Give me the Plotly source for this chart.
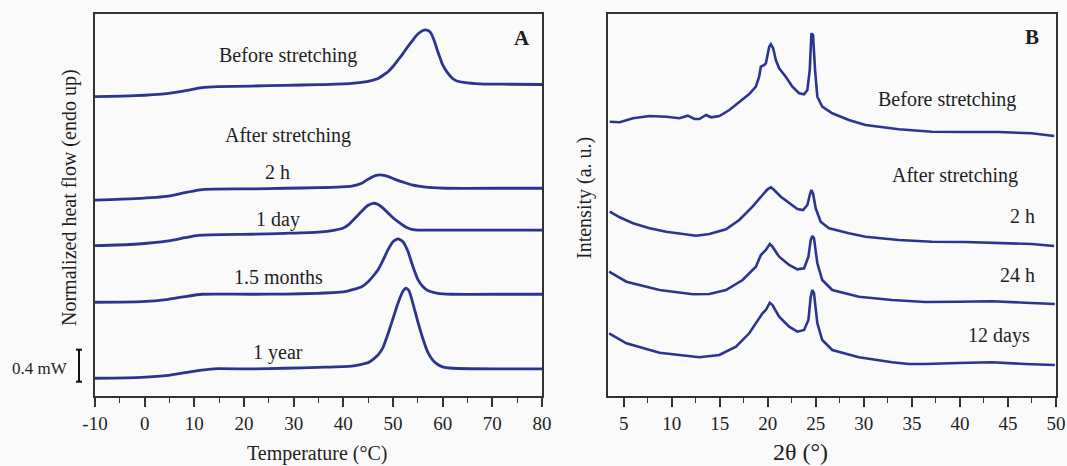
import plotly.graph_objects as go

W, H = 1067, 466

# ---------------- Panel A: DSC (Temperature °C, heat flow mW, offset) ----------------
T_before = [-10, -2, 4.8, 8.1, 11.5, 14.8, 21.5, 28.3, 35, 41.7, 45, 47, 48, 49, 50, 51, 52, 53, 54, 55, 56, 56.8, 57.5, 58.2, 59, 60, 61, 62, 63, 65, 68.5, 73.5, 80]
hf_before = [3.763, 3.775, 3.805, 3.835, 3.875, 3.888, 3.895, 3.905, 3.913, 3.93, 3.955, 3.99, 4.03, 4.075, 4.14, 4.22, 4.30, 4.39, 4.47, 4.545, 4.59, 4.595, 4.57, 4.48, 4.33, 4.16, 4.06, 3.99, 3.955, 3.935, 3.92, 3.918, 3.915]

T_2h = [-10, -2, 4.8, 8.1, 10.8, 12.1, 21.5, 28.3, 35, 41.7, 43.7, 44.7, 45.7, 46.6, 47.4, 48.2, 49.1, 50, 51.1, 52.5, 53.8, 55.5, 57.1, 60.5, 73.5, 80]
hf_2h = [2.47, 2.488, 2.52, 2.563, 2.595, 2.605, 2.61, 2.618, 2.625, 2.645, 2.68, 2.72, 2.755, 2.78, 2.785, 2.78, 2.763, 2.74, 2.713, 2.685, 2.66, 2.64, 2.63, 2.618, 2.618, 2.618]

T_1d = [-10, -2, 4.8, 8.1, 10.8, 21.5, 28.3, 35, 38.3, 40, 41, 42, 43, 44, 45, 46, 47, 48, 49, 50, 51, 52, 53, 54, 55.1, 73.5, 80]
hf_1d = [1.9, 1.918, 1.96, 2.0, 2.03, 2.043, 2.055, 2.07, 2.095, 2.12, 2.16, 2.22, 2.285, 2.35, 2.405, 2.43, 2.415, 2.37, 2.31, 2.25, 2.2, 2.155, 2.12, 2.10, 2.095, 2.095, 2.095]

T_15m = [-10, -0.6, 4.8, 8.1, 11.5, 14.8, 21.5, 28.3, 35, 40.3, 43.7, 45, 46, 47, 48, 49, 50, 51, 52, 53, 54, 55, 56, 57, 59, 61.8, 73.5, 80]
hf_15m = [1.193, 1.2, 1.23, 1.263, 1.293, 1.295, 1.293, 1.295, 1.305, 1.325, 1.388, 1.45, 1.52, 1.60, 1.72, 1.85, 1.95, 1.985, 1.95, 1.83, 1.64, 1.48, 1.39, 1.34, 1.305, 1.293, 1.293, 1.293]

T_1y = [-10, -0.6, 4.8, 8.1, 11.5, 14.8, 21.5, 28.3, 35, 41.7, 45, 46, 47, 48, 49, 50, 51, 52, 52.6, 53.2, 54, 55, 56, 57, 58, 59, 60, 62, 73.5, 80]
hf_1y = [0.243, 0.255, 0.28, 0.313, 0.345, 0.363, 0.359, 0.368, 0.38, 0.395, 0.438, 0.48, 0.535, 0.63, 0.80, 0.99, 1.18, 1.33, 1.368, 1.34, 1.18, 0.95, 0.74, 0.57, 0.47, 0.415, 0.385, 0.368, 0.359, 0.359]

dsc_labels = ["Before stretching", "After stretching", "2 h", "1 day", "1.5 months", "1 year"]
temp_ticks = [-10, 0, 10, 20, 30, 40, 50, 60, 70, 80]
temp_ticktext = ["-10", "0", "10", "20", "30", "40", "50", "60", "70", "80"]
scale_bar_mw = 0.4
scale_bar_base = 0.2

# ---------------- Panel B: XRD (2θ, intensity a.u., offset) ----------------
tt_before = [3.55, 4.59, 5.97, 7.7, 9.43, 10.81, 11.67, 12.37, 12.88, 13.58, 14.1, 14.96, 16.0, 17.03, 18.07, 18.76, 19.1, 19.28, 19.63, 19.8, 20.15, 20.32, 20.56, 20.84, 21.18, 21.87, 22.56, 23.26, 23.78, 24.12, 24.37, 24.54, 24.71, 24.92, 25.16, 25.67, 26.71, 28.44, 30.17, 33.63, 37.09, 40.55, 44.0, 47.46, 49.81]
I_before = [276, 275.4, 279.4, 281.7, 281, 279.4, 282, 278.7, 278.7, 282.7, 280.4, 281.7, 287.7, 296, 303.7, 311, 321, 331, 332.7, 334.4, 351, 353.4, 349.4, 337.7, 329.4, 321, 311, 304.4, 303.4, 307.7, 327.7, 364.4, 362.7, 327.7, 301, 291, 284.4, 277.7, 272.7, 268.4, 266, 265.7, 265.7, 264.4, 261.7]

tt_2h = [3.55, 4.59, 5.97, 7.7, 9.43, 11.15, 12.54, 13.92, 15.65, 17.03, 18.41, 19.45, 19.97, 20.32, 20.66, 21.36, 22.22, 23.08, 23.67, 24.12, 24.37, 24.54, 24.71, 24.99, 25.5, 26.37, 28.44, 30.17, 33.63, 37.09, 40.55, 44.0, 47.46, 49.81]
I_2h = [186, 180.4, 174.4, 169.4, 166, 163.4, 162, 163.7, 168.4, 177.7, 191, 202.7, 208.4, 210.4, 207.7, 201, 194.4, 188.7, 187.7, 192.7, 202.7, 207.7, 204.4, 189.4, 176, 169.4, 164.4, 161, 157.7, 156, 155.7, 155, 153.7, 151.7]

tt_24h = [3.48, 5.28, 8.73, 12.19, 13.92, 15.65, 17.38, 18.76, 19.28, 19.8, 20.21, 20.49, 21.18, 22.22, 23.08, 23.78, 24.23, 24.47, 24.64, 24.81, 25.16, 25.67, 26.71, 29.48, 32.94, 36.4, 39.85, 43.31, 46.77, 49.88]
I_24h = [126, 116, 107.7, 103.4, 103.7, 107.7, 117.7, 131, 142.7, 147.7, 153.7, 151, 141, 132.7, 128.4, 129.4, 141, 157.7, 161.7, 159.4, 134.4, 117.7, 107.7, 101, 97.7, 95.7, 96, 96.4, 95, 93.7]

tt_12d = [3.48, 5.28, 8.73, 12.19, 12.88, 14.96, 16.69, 18.07, 18.93, 19.45, 19.8, 20.21, 20.49, 21.18, 22.22, 23.08, 23.78, 24.23, 24.47, 24.64, 24.81, 25.16, 25.67, 26.71, 29.48, 32.94, 34.67, 36.4, 39.85, 43.31, 46.77, 49.88]
I_12d = [64.4, 54.4, 45, 41, 40.4, 42.7, 51, 64.4, 77.7, 84.4, 87.7, 95, 92.7, 81, 71, 66, 67.7, 77.7, 101, 107.7, 104.4, 74.4, 57.7, 47.7, 40.4, 35.4, 33.7, 33.7, 34.7, 35.4, 33.7, 32.7]

xrd_labels = ["Before stretching", "After stretching", "2 h", "24 h", "12 days"]

# ---------------- styling ----------------
BLUE = "#2b3590"
FRAME = "#333333"
TXT = "#1e1e1e"
FONT = "Liberation Serif"
BG = "#fafafa"

TOP, BOTTOM = 14, 396


def pxx(x):
    return x / W


def pxy(y):
    return (BOTTOM - y) / (BOTTOM - TOP)


fig = go.Figure()

for xs, ys in [(T_before, hf_before), (T_2h, hf_2h), (T_1d, hf_1d), (T_15m, hf_15m), (T_1y, hf_1y)]:
    fig.add_trace(go.Scatter(x=xs, y=ys, mode="lines", xaxis="x", yaxis="y",
                             line=dict(color=BLUE, width=2.8, shape="spline", smoothing=0.5),
                             showlegend=False, hoverinfo="skip"))

for xs, ys in [(tt_before, I_before), (tt_2h, I_2h), (tt_24h, I_24h), (tt_12d, I_12d)]:
    fig.add_trace(go.Scatter(x=xs, y=ys, mode="lines", xaxis="x2", yaxis="y2",
                             line=dict(color=BLUE, width=2.6),
                             showlegend=False, hoverinfo="skip"))

axis_common = dict(showline=True, mirror=True, linecolor=FRAME, linewidth=1.6,
                   showgrid=False, zeroline=False)
tickfont = dict(family=FONT, size=19, color=TXT)

fig.update_layout(
    width=W, height=H,
    margin=dict(l=0, r=0, t=TOP, b=H - BOTTOM, autoexpand=False),
    paper_bgcolor=BG, plot_bgcolor=BG,
    xaxis=dict(domain=[95 / W, 542 / W], range=[-10, 80],
               tickmode="array", tickvals=temp_ticks, ticktext=temp_ticktext,
               ticks="outside", ticklen=9, tickwidth=1.6, tickcolor=FRAME,
               minor=dict(ticks="outside", ticklen=5, tickwidth=1.4, tickcolor=FRAME,
                          tickmode="linear", tick0=-10, dtick=5),
               tickfont=tickfont, anchor="y", **axis_common),
    yaxis=dict(domain=[0, 1], range=[0.021, 4.796], showticklabels=False, ticks="",
               anchor="x", **axis_common),
    xaxis2=dict(domain=[608.3 / W, 1056 / W], range=[3.4, 50], tick0=5, dtick=5,
                ticks="outside", ticklen=9, tickwidth=1.6, tickcolor=FRAME,
                minor=dict(ticks="outside", ticklen=5, tickwidth=1.4, tickcolor=FRAME, dtick=2.5),
                tickfont=tickfont, anchor="y2", **axis_common),
    yaxis2=dict(domain=[0, 1], range=[1.7, 383.7], showticklabels=False, ticks="",
                anchor="x2", **axis_common),
)

ann = []


def add_text(text, x, y, size=20, bold=False, angle=0):
    if bold:
        text = "<b>" + text + "</b>"
    ann.append(dict(text=text, x=pxx(x), y=pxy(y), xref="paper", yref="paper",
                    xanchor="center", yanchor="middle", showarrow=False, textangle=angle,
                    font=dict(family=FONT, size=size, color=TXT)))


# Panel A labels
dsc_pos = [(288, 56), (288, 135), (277, 172), (278, 219), (278, 277), (278, 352)]
for lab, (x, y) in zip(dsc_labels, dsc_pos):
    add_text(lab, x, y)
add_text("A", 522, 38, size=21, bold=True)
add_text("0.4 mW", 40, 368, size=17)
add_text("Temperature (°C)", 317, 453)
add_text("Normalized heat flow (endo up)", 70, 198, angle=-90)

# Panel B labels
xrd_pos = [(947, 100), (955, 175), (1022, 216), (1017, 275), (999, 335)]
for lab, (x, y) in zip(xrd_labels, xrd_pos):
    add_text(lab, x, y)
add_text("B", 1032, 37, size=21, bold=True)
add_text("2θ (°)", 800, 452, size=24)
add_text("Intensity (a. u.)", 585, 198, angle=-90)

fig.update_layout(annotations=ann)

# scale bar (0.4 mW)
bx = pxx(79)
cap = 3 / W
y0, y1 = scale_bar_base, scale_bar_base + scale_bar_mw
shapes = [
    dict(type="line", xref="paper", yref="y", x0=bx, x1=bx, y0=y0, y1=y1, line=dict(color="#111", width=2)),
    dict(type="line", xref="paper", yref="y", x0=bx - cap, x1=bx + cap, y0=y0, y1=y0, line=dict(color="#111", width=2)),
    dict(type="line", xref="paper", yref="y", x0=bx - cap, x1=bx + cap, y0=y1, y1=y1, line=dict(color="#111", width=2)),
]
fig.update_layout(shapes=shapes)

fig.write_html("out.html", config={"displayModeBar": False},
               post_script="document.body.style.margin='0px';document.body.style.background='#fafafa';")
